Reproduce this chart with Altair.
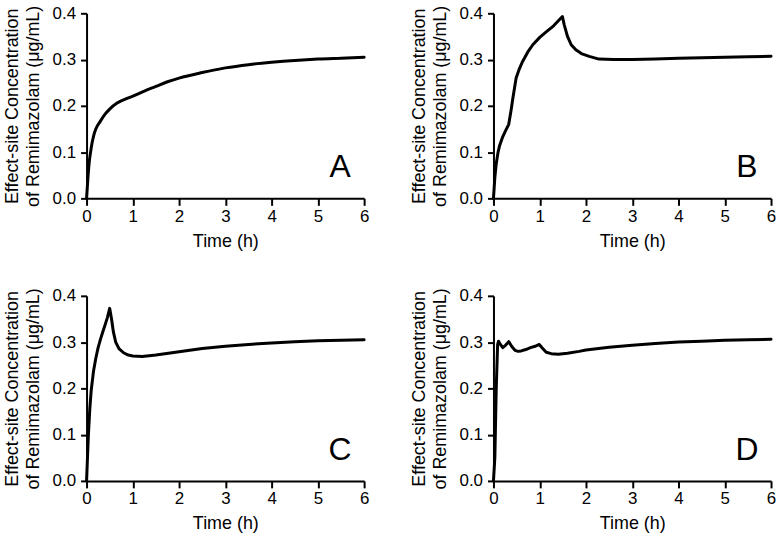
import altair as alt
import pandas as pd

# Effect-site concentration profiles (time in h, concentration in ug/mL)
t_a = [0, 0.03, 0.06, 0.09, 0.12, 0.16, 0.2, 0.3, 0.4, 0.5, 0.66, 0.8, 1.0, 1.25, 1.5,
       1.75, 2.0, 2.5, 3.0, 3.5, 4.0, 4.5, 5.0, 5.5, 6.0]
c_a = [0, 0.045, 0.08, 0.102, 0.12, 0.138, 0.15, 0.167, 0.182, 0.193, 0.206, 0.213, 0.221,
       0.232, 0.242, 0.252, 0.26, 0.272, 0.282, 0.289, 0.294, 0.298, 0.301, 0.303, 0.305]

t_b = [0, 0.03, 0.06, 0.1, 0.13, 0.2, 0.27, 0.33, 0.38, 0.42, 0.49, 0.56, 0.63, 0.74, 0.85,
       1.0, 1.14, 1.3, 1.49, 1.53, 1.6, 1.68, 1.78, 1.9, 2.07, 2.28, 2.6, 3.0, 3.5, 4.0, 4.5,
       5.0, 5.5, 6.0]
c_b = [0, 0.045, 0.075, 0.1, 0.113, 0.133, 0.148, 0.16, 0.19, 0.217, 0.26, 0.28, 0.296,
       0.316, 0.332, 0.348, 0.36, 0.373, 0.393, 0.375, 0.35, 0.332, 0.321, 0.313, 0.307,
       0.301, 0.3, 0.3, 0.301, 0.303, 0.304, 0.305, 0.306, 0.307]

t_c = [0, 0.02, 0.04, 0.07, 0.1, 0.15, 0.2, 0.25, 0.3, 0.35, 0.4, 0.45, 0.5, 0.54, 0.58,
       0.63, 0.7, 0.8, 0.9, 1.0, 1.2, 1.5, 2.0, 2.5, 3.0, 3.5, 4.0, 4.5, 5.0, 5.5, 6.0]
c_c = [0, 0.05, 0.1, 0.155, 0.195, 0.237, 0.265, 0.288, 0.306, 0.322, 0.337, 0.353, 0.373,
       0.35, 0.322, 0.3, 0.286, 0.277, 0.272, 0.27, 0.269, 0.272, 0.279, 0.286, 0.291,
       0.295, 0.298, 0.301, 0.303, 0.304, 0.305]

t_d = [0, 0.03, 0.06, 0.09, 0.11, 0.15, 0.2, 0.26, 0.33, 0.4, 0.47, 0.53, 0.6, 0.7, 0.8,
       0.9, 0.99, 1.05, 1.14, 1.25, 1.4, 1.6, 1.85, 2.0, 2.5, 3.0, 3.5, 4.0, 4.5, 5.0, 5.5,
       6.0]
c_d = [0, 0.05, 0.2, 0.295, 0.302, 0.295, 0.288, 0.293, 0.301, 0.29, 0.282, 0.28, 0.281,
       0.284, 0.288, 0.291, 0.295, 0.288, 0.278, 0.275, 0.274, 0.276, 0.28, 0.283, 0.289,
       0.293, 0.297, 0.3, 0.302, 0.304, 0.305, 0.306]

letter_t = 5.48
letter_c = 0.046

x_ticks = [i * 0.5 for i in range(13)]
y_ticks = [0.0, 0.1, 0.2, 0.3, 0.4]

FONT = "Liberation Sans"
W, H = 279, 186


def panel(ts, cs, letter, interp="linear"):
    df = pd.DataFrame({"t": ts, "c": cs})
    x = alt.X(
        "t:Q",
        scale=alt.Scale(domain=[0, 6], nice=False),
        axis=alt.Axis(
            title="Time (h)",
            titleFontWeight="normal",
            values=x_ticks,
            labelExpr="datum.value % 1 === 0 ? datum.label : ''",
            tickSize={"condition": {"test": "datum.value % 1 !== 0", "value": 4}, "value": 7},
            labelOverlap=False,
            labelFlush=False,
            labelPadding=3,
            titlePadding=8,
        ),
    )
    y = alt.Y(
        "c:Q",
        scale=alt.Scale(domain=[0, 0.4], nice=False),
        axis=alt.Axis(
            title=["Effect-site Concentration", "of Remimazolam (μg/mL)"],
            titleFontWeight="normal",
            values=y_ticks,
            format=".1f",
            tickSize=6,
            labelFlush=False,
            labelPadding=5,
            titlePadding=10,
        ),
    )
    line = alt.Chart(df).mark_line(
        color="black", strokeWidth=3, strokeJoin="round", strokeCap="round",
        interpolate=interp,
    ).encode(x=x, y=y)
    lab = alt.Chart(
        pd.DataFrame({"t": [letter_t], "c": [letter_c], "s": [letter]})
    ).mark_text(
        font=FONT, fontSize=32, color="black", align="center", baseline="alphabetic"
    ).encode(x="t:Q", y="c:Q", text="s:N")
    return alt.layer(line, lab).properties(width=W, height=H)


top = alt.hconcat(panel(t_a, c_a, "A", "monotone"), panel(t_b, c_b, "B"), spacing=41)
bottom = alt.hconcat(panel(t_c, c_c, "C"), panel(t_d, c_d, "D"), spacing=41)

chart = (
    alt.vconcat(top, bottom, spacing=37)
    .properties(padding={"left": 3, "top": 3, "right": 2, "bottom": 0}, background="white")
    .configure_view(stroke=None)
    .configure_axis(
        grid=False,
        domainColor="black",
        domainWidth=2,
        tickColor="black",
        tickWidth=2,
        labelColor="black",
        titleColor="black",
        labelFont=FONT,
        titleFont=FONT,
        labelFontSize=17,
        titleFontSize=18,
        titleFontWeight="normal",
        titleLineHeight=21,
    )
)

chart.save("out.html", embed_options={"renderer": "svg", "actions": False})
